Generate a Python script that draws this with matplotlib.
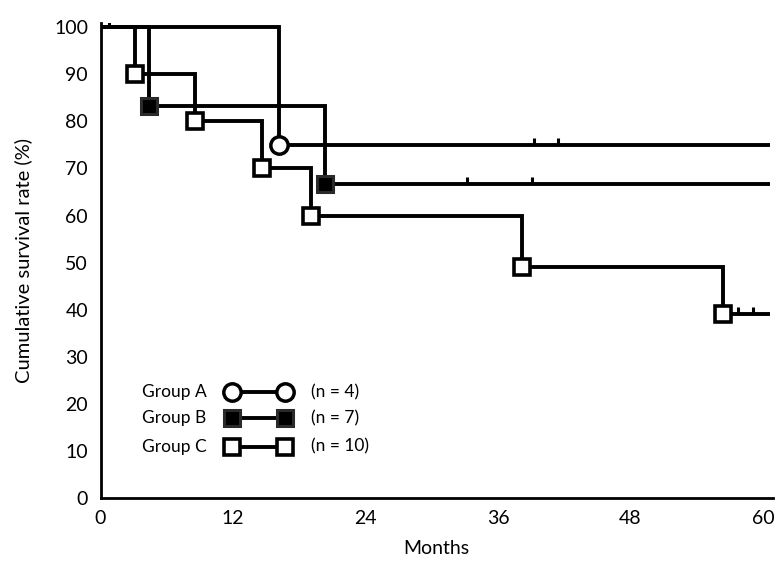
import matplotlib
matplotlib.use("Agg")
import matplotlib.pyplot as plt

# ---- data ----
groups = ["Group A", "Group B", "Group C"]
n_labels = ["(n = 4)", "(n = 7)", "(n = 10)"]

a_event_times = [16.2]
a_event_levels = [75]
a_censor_times = [0.8, 39.3, 41.4]

b_event_times = [4.35, 20.3]
b_event_levels = [83.3, 66.7]
b_censor_times = [33.2, 39.1]

c_event_times = [3.1, 8.6, 14.6, 19.1, 38.2, 56.4]
c_event_levels = [90, 80, 70, 60, 49, 39]
c_censor_times = [57.7, 59.1]

end_time = 60.6
x_ticks = [0, 12, 24, 36, 48, 60]
y_ticks = [0, 10, 20, 30, 40, 50, 60, 70, 80, 90, 100]

plt.rcParams['font.family'] = ['Lato', 'DejaVu Sans']

fig = plt.figure(figsize=(7.79, 5.62), dpi=100)
W, H = 779, 562
ax = fig.add_axes([100.5 / W, (H - 498) / H, (773 - 100.5) / W, (498 - 22.5) / H])
ax.set_xlim(0, 60.9)
ax.set_ylim(0, 101)

LW = 2.8
styles = {
    "A": dict(marker='o', mfc='white', mec='black', ms=12.5, mew=2.5),
    "B": dict(marker='s', mfc='black', mec='#2a2a2a', ms=12, mew=2.2),
    "C": dict(marker='s', mfc='white', mec='black', ms=12, mew=2.6),
}


def step_xy(times, levels):
    xs, ys = [0], [100]
    cur = 100
    for t, lv in zip(times, levels):
        xs += [t, t]
        ys += [cur, lv]
        cur = lv
    xs.append(end_time)
    ys.append(cur)
    return xs, ys


def level_at(t, times, levels):
    cur = 100
    for tt, lv in zip(times, levels):
        if t >= tt:
            cur = lv
    return cur


series = [
    ("A", a_event_times, a_event_levels, a_censor_times),
    ("B", b_event_times, b_event_levels, b_censor_times),
    ("C", c_event_times, c_event_levels, c_censor_times),
]

for key, et, el, ct in series:
    xs, ys = step_xy(et, el)
    ax.plot(xs, ys, color='black', lw=LW, solid_joinstyle='miter',
            solid_capstyle='butt', zorder=2)
    for t in ct:
        lv = level_at(t, et, el)
        ax.plot([t, t], [lv, lv + 1.5], color='black', lw=2.2,
                solid_capstyle='butt', zorder=2)

for key, et, el, ct in series:
    ax.plot(et, el, linestyle='none', zorder=3, **styles[key])

# ---- legend (hand drawn as in the reference) ----
leg_rows = [22.5, 16.9, 10.9]
for key, g, nl, yy in zip(["A", "B", "C"], groups, n_labels, leg_rows):
    ax.text(3.8, yy, g, fontsize=12.5, va='center', ha='left')
    ax.plot([11.9, 16.7], [yy, yy], color='black', lw=LW, zorder=2)
    ax.plot([11.9, 16.7], [yy, yy], linestyle='none', zorder=3, **styles[key])
    ax.text(19.1, yy, nl, fontsize=12.5, va='center', ha='left')

for s in ['top', 'right']:
    ax.spines[s].set_visible(False)
for s in ['left', 'bottom']:
    ax.spines[s].set_linewidth(2.0)

ax.set_xticks(x_ticks)
ax.set_yticks(y_ticks)
ax.tick_params(length=0, labelsize=14, pad=9)
ax.set_xlabel("Months", fontsize=14, labelpad=9)
ax.set_ylabel("Cumulative survival rate (%)", fontsize=14.5, labelpad=16)

fig.savefig("out.png", dpi=100)
